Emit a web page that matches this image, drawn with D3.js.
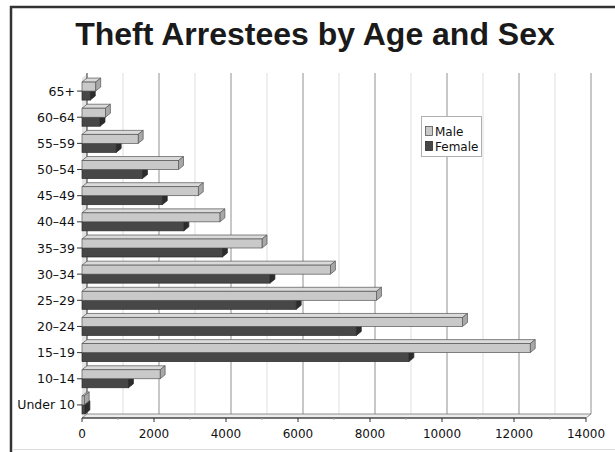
<!DOCTYPE html>
<html><head><meta charset="utf-8">
<script src="https://cdn.jsdelivr.net/npm/d3@7"></script>
<style>html,body{margin:0;padding:0;background:#fff;}svg{display:block;}</style>
</head><body>
<svg id="c" width="615" height="452"></svg>
<script>
const title = "Theft Arrestees by Age and Sex";
const categories = ["65+","60\u201364","55\u201359","50\u201354","45\u201349","40\u201344","35\u201339","30\u201334","25\u201329","20\u201324","15\u201319","10\u201314","Under 10"];
const maleValues   = [380, 650, 1560, 2680, 3230, 3830, 5000, 6900, 8180, 10570, 12450, 2170, 60];
const femaleValues = [230, 500,  950, 1680, 2230, 2830, 3900, 5220, 5950, 7620, 9080, 1290, 80];
const seriesNames = ["Male","Female"];
const xTicks = [0,2000,4000,6000,8000,10000,12000,14000];
const xMinor = [1000,3000,5000,7000,9000,11000,13000];

const svg = d3.select("#c");
const dx = 5, dy = 4;
const x = d3.scaleLinear().domain([0,14000]).range([82,586]);
const y = d3.scalePoint().domain(categories).range([78,418]).padding(0.5);
const barH = 9;
const yTop = 78, yBot = 418;
const font = "DejaVu Sans, sans-serif";

// frame
svg.append("line").attr("x1",10).attr("x2",615).attr("y1",7).attr("y2",7).attr("stroke","#333").attr("stroke-width",2.5);
svg.append("line").attr("x1",11).attr("x2",11).attr("y1",6).attr("y2",452).attr("stroke","#333").attr("stroke-width",2.5);
svg.append("line").attr("x1",12).attr("x2",615).attr("y1",449.5).attr("y2",449.5).attr("stroke","#ddd").attr("stroke-width",1);

// title
svg.append("text").attr("x",315).attr("y",45).attr("text-anchor","middle")
  .attr("font-family","Liberation Sans, Arial, sans-serif").attr("font-weight","bold")
  .attr("font-size",32).attr("fill","#1a1a1a").text(title);

// back wall gridlines
svg.append("g").selectAll("line").data(xMinor).join("line")
  .attr("x1",d=>x(d)+dx).attr("x2",d=>x(d)+dx).attr("y1",yTop-dy-1).attr("y2",yBot-dy)
  .attr("stroke","#dedede").attr("stroke-width",1);
svg.append("g").selectAll("line").data(xTicks.slice(1)).join("line")
  .attr("x1",d=>x(d)+dx).attr("x2",d=>x(d)+dx).attr("y1",yTop-dy-1).attr("y2",yBot-dy)
  .attr("stroke","#909090").attr("stroke-width",1);

// left wall
const x0 = x(0);
svg.append("path").attr("d",`M${x0},${yBot} L${x0},${yTop} L${x0+dx},${yTop-dy} L${x0+dx},${yBot-dy} Z`)
  .attr("fill","#e4e4e4").attr("stroke","none");
svg.append("line").attr("x1",x0+dx).attr("x2",x0+dx).attr("y1",yTop-dy-1).attr("y2",yBot-dy)
  .attr("stroke","#333").attr("stroke-width",1);
// floor
svg.append("path").attr("d",`M${x0},${yBot} L${x(14000)},${yBot} L${x(14000)+dx},${yBot-dy} L${x0+dx},${yBot-dy} Z`)
  .attr("fill","#ececec").attr("stroke","#777").attr("stroke-width",0.8);

// bars
function bar3d(g, v, top, front, topc, side, stroke){
  const x1 = x(v);
  const bottom = top + barH;
  g.append("path").attr("d",`M${x0},${top} L${x1},${top} L${x1+dx},${top-dy} L${x0+dx},${top-dy} Z`)
    .attr("fill",topc).attr("stroke",stroke).attr("stroke-width",0.7);
  g.append("path").attr("d",`M${x1},${top} L${x1+dx},${top-dy} L${x1+dx},${bottom-dy} L${x1},${bottom} Z`)
    .attr("fill",side).attr("stroke",stroke).attr("stroke-width",0.7);
  g.append("rect").attr("x",x0).attr("y",top).attr("width",Math.max(0,x1-x0)).attr("height",barH)
    .attr("fill",front).attr("stroke",stroke).attr("stroke-width",0.7);
}
const bars = svg.append("g");
categories.forEach((c,i)=>{
  const cy = y(c);
  const g = bars.append("g");
  bar3d(g, femaleValues[i], cy, "#474747", "#5c5c5c", "#2c2c2c", "#2a2a2a");
  bar3d(g, maleValues[i], cy - barH, "#c9c9c9", "#dadada", "#a8a8a8", "#555");
});

// x axis
const ax = svg.append("g");
ax.append("line").attr("x1",x0).attr("x2",x(14000)).attr("y1",yBot).attr("y2",yBot).attr("stroke","#222").attr("stroke-width",1.2);
ax.selectAll(".mt").data(xTicks).join("line")
  .attr("x1",d=>x(d)).attr("x2",d=>x(d)).attr("y1",yBot).attr("y2",yBot+4).attr("stroke","#333");
ax.selectAll(".nt").data(xMinor).join("line")
  .attr("x1",d=>x(d)).attr("x2",d=>x(d)).attr("y1",yBot).attr("y2",yBot+2).attr("stroke","#aaa");
ax.selectAll("text").data(xTicks).join("text")
  .attr("x",d=>x(d)).attr("y",438).attr("text-anchor","middle")
  .attr("font-family",font).attr("font-size",12).attr("fill","#111").text(d=>d);

// y axis
const ay = svg.append("g");
ay.selectAll("line").data(categories).join("line")
  .attr("x1",77).attr("x2",x0).attr("y1",d=>y(d)).attr("y2",d=>y(d)).attr("stroke","#333");
ay.selectAll("text").data(categories).join("text")
  .attr("x",75).attr("y",d=>y(d)+4.5).attr("text-anchor","end")
  .attr("font-family",font).attr("font-size",12.5).attr("fill","#111").text(d=>d);

// legend
const lg = svg.append("g");
lg.append("rect").attr("x",421.5).attr("y",116.5).attr("width",60).attr("height",40)
  .attr("fill","#fff").attr("stroke","#b0b0b0").attr("stroke-width",1);
const lcol = [["#c9c9c9","#555"],["#474747","#2a2a2a"]];
seriesNames.forEach((n,i)=>{
  lg.append("rect").attr("x",425.5).attr("y",126.5+i*15).attr("width",7).attr("height",9)
    .attr("fill",lcol[i][0]).attr("stroke",lcol[i][1]).attr("stroke-width",0.8);
  lg.append("text").attr("x",435).attr("y",135.5+i*15).attr("font-family",font).attr("font-size",12)
    .attr("fill","#111").text(n);
});
</script>
</body></html>
